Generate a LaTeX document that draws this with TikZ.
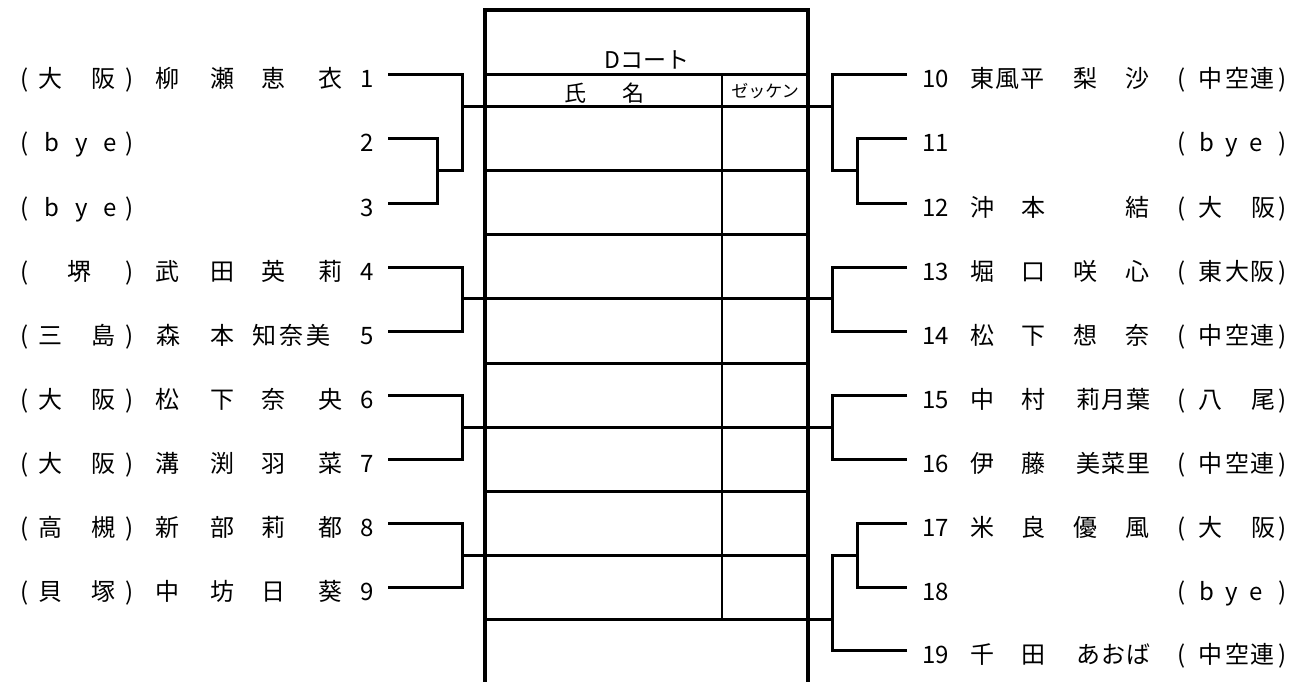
\documentclass[tikz,border=0pt]{standalone}
\usepackage{fontspec}
\newfontfamily\jp{Noto Sans CJK JP}
\newcommand\rowtext[3]{%
  \foreach \px/\ch [count=\k] in {#3}
    \node[txt] (#1-\k) at (\px,#2+13) {\ch};}
\begin{document}
\begin{tikzpicture}[x=1pt,y=-1pt,
  txt/.style={anchor=base,inner sep=0pt,font=\jp\fontsize{24}{28}\selectfont},
  numl/.style={txt,anchor=base east},
  numr/.style={txt,anchor=base west},
  br/.style={line width=3pt,line join=miter},
  tbl/.style={line width=3pt},
  divl/.style={line width=2.2pt},
  bord/.style={line width=4.5pt,line join=miter},
]
\useasboundingbox (0,0) rectangle (1294,681);
\fill[white] (0,0) rectangle (1294,681);

% ---------- table ----------
\foreach \yy in {74,106,170,234.5,298.5,363,427,491,555,619}
  \draw[tbl] (484,\yy) -- (808,\yy);
\draw[divl] (722,74) -- (722,619);
\draw[bord] (485,700) -- (485,10) -- (808,10) -- (808,700);
\node[anchor=base,inner sep=0pt,font=\jp\fontsize{23}{26}\selectfont] (court) at (647,68) {Dコート};
\node[txt,font=\jp\fontsize{22}{26}\selectfont] (shi) at (575,101) {氏};
\node[txt,font=\jp\fontsize{22}{26}\selectfont] (mei) at (633,101) {名};
\node[txt,font=\jp\fontsize{17}{20}\selectfont] (zekken) at (765,97) {ゼッケン};

% ---------- left entries ----------
\rowtext{L1}{74}{25/{(},50/大,103/阪,130/{)},167/柳,222/瀬,273/恵,330/衣}
\rowtext{L2}{138}{25/{(},52/b,82/y,110/e,130/{)}}
\rowtext{L3}{203}{25/{(},52/b,82/y,110/e,130/{)}}
\rowtext{L4}{267}{25/{(},79/堺,130/{)},167/武,222/田,273/英,330/莉}
\rowtext{L5}{331}{25/{(},50/三,103/島,130/{)},168/森,222/本,264/知,291/奈,318/美}
\rowtext{L6}{395}{25/{(},50/大,103/阪,130/{)},167/松,222/下,273/奈,330/央}
\rowtext{L7}{459}{25/{(},50/大,103/阪,130/{)},167/溝,222/渕,273/羽,330/菜}
\rowtext{L8}{523}{25/{(},50/高,103/槻,130/{)},167/新,222/部,273/莉,330/都}
\rowtext{L9}{587}{25/{(},50/貝,103/塚,130/{)},167/中,222/坊,273/日,330/葵}
\foreach \n/\yy in {1/74,2/138,3/203,4/267,5/331,6/395,7/459,8/523,9/587}
  \node[numl] (n\n) at (374,\yy+13) {\n};

% ---------- right entries ----------
\rowtext{R10}{74}{982/東,1007/風,1032/平,1085/梨,1137/沙,1182/{(},1210/中,1237/空,1262/連,1283/{)}}
\rowtext{R11}{138}{1182/{(},1207/b,1232/y,1256/e,1283/{)}}
\rowtext{R12}{203}{982/沖,1033/本,1137/結,1182/{(},1210/大,1263/阪,1283/{)}}
\rowtext{R13}{267}{982/堀,1033/口,1085/咲,1137/心,1182/{(},1210/東,1237/大,1262/阪,1283/{)}}
\rowtext{R14}{331}{982/松,1033/下,1085/想,1137/奈,1182/{(},1210/中,1237/空,1262/連,1283/{)}}
\rowtext{R15}{395}{982/中,1033/村,1088/莉,1113/月,1138/葉,1182/{(},1210/八,1263/尾,1283/{)}}
\rowtext{R16}{459}{982/伊,1033/藤,1088/美,1113/菜,1138/里,1182/{(},1210/中,1237/空,1262/連,1283/{)}}
\rowtext{R17}{523}{982/米,1033/良,1085/優,1137/風,1182/{(},1210/大,1263/阪,1283/{)}}
\rowtext{R18}{587}{1182/{(},1207/b,1232/y,1256/e,1283/{)}}
\rowtext{R19}{650}{982/千,1033/田,1088/あ,1113/お,1138/ば,1182/{(},1210/中,1237/空,1262/連,1283/{)}}
\foreach \n/\yy in {10/74,11/138,12/203,13/267,14/331,15/395,16/459,17/523,18/587,19/650}
  \node[numr] (n\n) at (922,\yy+13) {\n};

% ---------- connector coordinates ----------
\foreach \n/\yy in {1/74,2/138,3/203,4/267,5/331,6/395,7/459,8/523,9/587}
  \coordinate (la\n) at (388,\yy);
\foreach \n/\yy in {10/74,11/138,12/203,13/267,14/331,15/395,16/459,17/523,18/587,19/650}
  \coordinate (ra\n) at (907,\yy);
\coordinate (jLA2) at (437,170);
\coordinate (jLA1) at (462,170);
\coordinate (tLA) at (462,106);
\coordinate (jLB) at (462,298.5);
\coordinate (jLC) at (462,427);
\coordinate (jLD) at (462,555);
\coordinate (TL1) at (485,106);
\coordinate (TL2) at (485,298.5);
\coordinate (TL3) at (485,427);
\coordinate (TL4) at (485,555);
\coordinate (jRA2) at (857,170);
\coordinate (jRA1) at (832,170);
\coordinate (tRA) at (832,106);
\coordinate (jRB) at (832,298.5);
\coordinate (jRC) at (832,427);
\coordinate (jRD2) at (857,555);
\coordinate (jRD1) at (832,555);
\coordinate (tRD) at (832,619);
\coordinate (TR1) at (808,106);
\coordinate (TR2) at (808,298.5);
\coordinate (TR3) at (808,427);
\coordinate (TR4) at (808,619);

% ---------- left brackets ----------
\draw[br] (la2) -| (jLA2) |- (la3);
\draw[br] (la1) -| (jLA1) -- (jLA2);
\draw[br] (tLA) -- (TL1);
\draw[br] (la4) -| (jLB) |- (la5);
\draw[br] (jLB) -- (TL2);
\draw[br] (la6) -| (jLC) |- (la7);
\draw[br] (jLC) -- (TL3);
\draw[br] (la8) -| (jLD) |- (la9);
\draw[br] (jLD) -- (TL4);

% ---------- right brackets ----------
\draw[br] (ra11) -| (jRA2) |- (ra12);
\draw[br] (ra10) -| (jRA1) -- (jRA2);
\draw[br] (tRA) -- (TR1);
\draw[br] (ra13) -| (jRB) |- (ra14);
\draw[br] (jRB) -- (TR2);
\draw[br] (ra15) -| (jRC) |- (ra16);
\draw[br] (jRC) -- (TR3);
\draw[br] (ra17) -| (jRD2) |- (ra18);
\draw[br] (ra19) -| (jRD1) -- (jRD2);
\draw[br] (tRD) -- (TR4);
\end{tikzpicture}
\end{document}
